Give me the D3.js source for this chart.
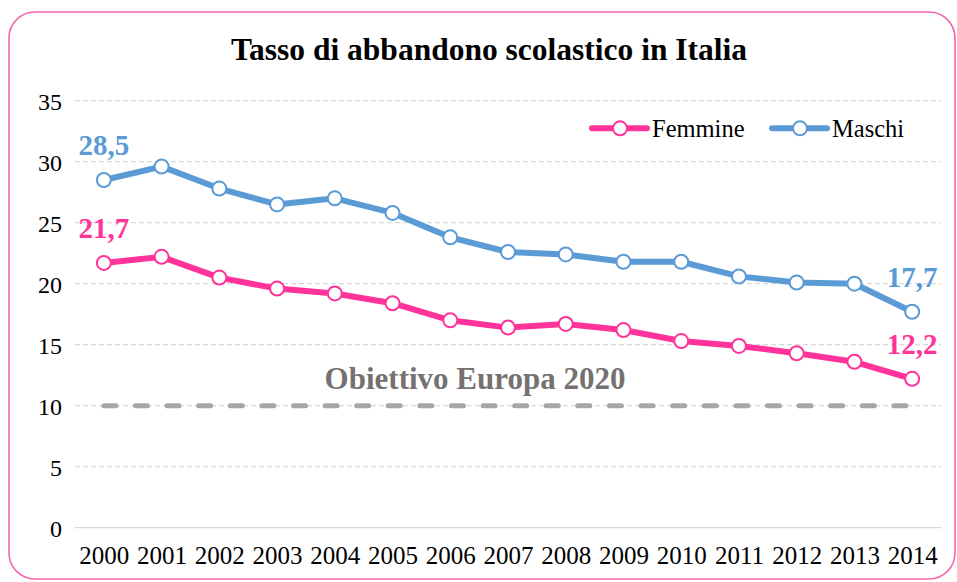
<!DOCTYPE html>
<html><head><meta charset="utf-8">
<script src="https://cdn.jsdelivr.net/npm/d3@7"></script>
<style>html,body{margin:0;padding:0;background:#fff;}svg{display:block;}</style>
</head><body>
<svg id="chart" width="957" height="582"></svg>
<script>
const years = ["2000","2001","2002","2003","2004","2005","2006","2007","2008","2009","2010","2011","2012","2013","2014"];
const femmine = [21.7,22.2,20.5,19.6,19.2,18.4,17.0,16.4,16.7,16.2,15.3,14.9,14.3,13.6,12.2];
const maschi  = [28.5,29.6,27.8,26.5,27.0,25.8,23.8,22.6,22.4,21.8,21.8,20.6,20.1,20.0,17.7];
const obiettivo = [10,10,10,10,10,10,10,10,10,10,10,10,10,10,10];
const yTicks = [0,5,10,15,20,25,30,35];
const title = "Tasso di abbandono scolastico in Italia";
const targetLabel = "Obiettivo Europa 2020";
const seriesNames = ["Femmine","Maschi"];

const W = 957, H = 582;
const pinkC = "#FF3399", blueC = "#5B9BD5";
const font = "'Liberation Serif', 'Times New Roman', serif";
const svg = d3.select("#chart");

svg.append("rect").attr("x",9).attr("y",12).attr("width",946).attr("height",567)
  .attr("rx",26).attr("ry",26).attr("fill","#fff").attr("stroke","#F266B0").attr("stroke-width",1.6);

const x = d3.scalePoint().domain(years).range([75,941]).padding(0.5);
const y = d3.scaleLinear().domain([0,35]).range([527.7,100.7]);

// gridlines
const grid = svg.append("g");
grid.selectAll("line").data(yTicks).join("line")
  .attr("x1",75).attr("x2",941)
  .attr("y1",d=>y(d)).attr("y2",d=>y(d))
  .attr("stroke","#D9D9D9").attr("stroke-width",1.3)
  .attr("stroke-dasharray",d=>d===0?null:"5 3");

// y axis
const yAxis = svg.append("g").attr("transform","translate(62,0)")
  .call(d3.axisLeft(y).tickValues(yTicks).tickSize(0).tickPadding(0));
yAxis.select(".domain").remove();
yAxis.selectAll("text").attr("font-family",font).attr("font-size",24).attr("fill","#000").attr("dy","0.35em");

// x axis
const xAxis = svg.append("g").attr("transform","translate(0,545)")
  .call(d3.axisBottom(x).tickSize(0).tickPadding(0));
xAxis.select(".domain").remove();
xAxis.selectAll("text").attr("font-family",font).attr("font-size",25).attr("fill","#000").attr("dy","0.75em");

// title
svg.append("text").attr("x",489).attr("y",60).attr("text-anchor","middle")
  .attr("font-family",font).attr("font-weight","bold").attr("font-size",31.5).attr("fill","#000").text(title);

// target line
const lineGen = d3.line().x((d,i)=>x(years[i])).y(d=>y(d));
svg.append("path").datum(obiettivo).attr("d",lineGen).attr("fill","none")
  .attr("stroke","#A6A6A6").attr("stroke-width",5).attr("stroke-linecap","round")
  .attr("stroke-dasharray","12 19.6");
svg.append("text").attr("x",475).attr("y",389).attr("text-anchor","middle")
  .attr("font-family",font).attr("font-weight","bold").attr("font-size",31).attr("fill","#767171").text(targetLabel);

function drawSeries(vals,color){
  svg.append("path").datum(vals).attr("d",lineGen).attr("fill","none")
    .attr("stroke",color).attr("stroke-width",6).attr("stroke-linejoin","round");
  svg.append("g").selectAll("circle").data(vals).join("circle")
    .attr("cx",(d,i)=>x(years[i])).attr("cy",d=>y(d)).attr("r",7)
    .attr("fill","#fff").attr("stroke",color).attr("stroke-width",2);
  [0,vals.length-1].forEach(i=>{
    svg.append("text").attr("x",x(years[i])).attr("y",y(vals[i])-25).attr("text-anchor","middle")
      .attr("font-family",font).attr("font-weight","bold").attr("font-size",29).attr("fill",color)
      .text(String(vals[i].toFixed(1)).replace(".",","));
  });
}
drawSeries(maschi,blueC);
drawSeries(femmine,pinkC);

// legend
const leg = [{name:seriesNames[0],color:pinkC,x0:592},{name:seriesNames[1],color:blueC,x0:772}];
leg.forEach(l=>{
  const g = svg.append("g");
  g.append("line").attr("x1",l.x0).attr("x2",l.x0+55).attr("y1",128.3).attr("y2",128.3)
    .attr("stroke",l.color).attr("stroke-width",6).attr("stroke-linecap","round");
  g.append("circle").attr("cx",l.x0+28).attr("cy",128.3).attr("r",7).attr("fill","#fff")
    .attr("stroke",l.color).attr("stroke-width",2);
  g.append("text").attr("x",l.x0+60).attr("y",128.3).attr("dy","0.35em")
    .attr("font-family",font).attr("font-size",24.5).attr("fill","#000").text(l.name);
});
</script>
</body></html>
